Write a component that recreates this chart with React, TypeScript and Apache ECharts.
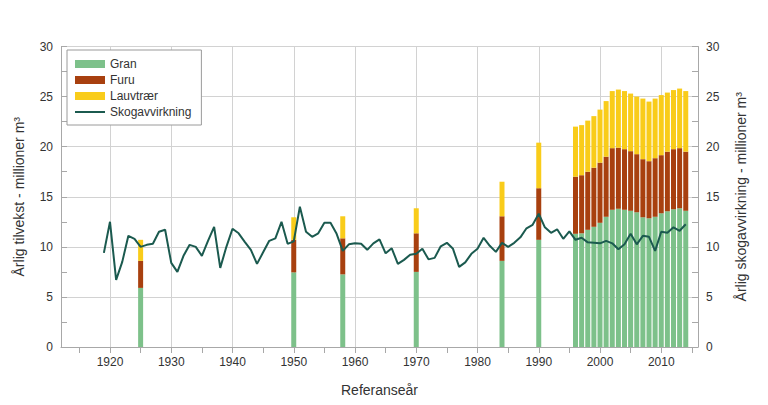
import React, { useEffect, useRef } from "react";
import * as echarts from "echarts";

const axisFirstYear = 1912;
const axisLastYear = 2016;

const barYears = [1925, 1950, 1958, 1970, 1984, 1990, 1996, 1997, 1998, 1999, 2000, 2001, 2002, 2003, 2004, 2005, 2006, 2007, 2008, 2009, 2010, 2011, 2012, 2013, 2014];
const granValues = [5.9, 7.45, 7.25, 7.5, 8.6, 10.7, 11.3, 11.35, 11.7, 12.0, 12.4, 13.0, 13.7, 13.8, 13.7, 13.6, 13.45, 12.95, 12.85, 13.0, 13.35, 13.55, 13.75, 13.85, 13.6];
const furuValues = [2.7, 3.25, 3.6, 3.85, 4.45, 5.15, 5.7, 5.8, 5.8, 5.9, 6.0, 6.0, 6.15, 6.1, 6.05, 5.95, 5.8, 5.8, 5.7, 5.85, 5.8, 5.95, 6.0, 6.0, 5.9];
const lauvValues = [2.1, 2.25, 2.2, 2.5, 3.45, 4.55, 5.0, 5.0, 5.1, 5.15, 5.3, 5.55, 5.7, 5.8, 5.8, 5.75, 5.75, 6.05, 5.95, 5.95, 6.0, 5.9, 5.9, 5.95, 6.05];

const lineStartYear = 1919;
const avvirkningValues = [
  9.4, 12.5, 6.7, 8.5, 11.1, 10.8, 10.0, 10.2, 10.3, 11.5,
  11.7, 8.4, 7.5, 9.1, 10.2, 10.0, 9.1, 10.6, 12.0, 7.9,
  10.0, 11.8, 11.35, 10.5, 9.7, 8.3, 9.45, 10.6, 10.85, 12.5,
  10.3, 10.55, 14.0, 11.5, 11.0, 11.35, 12.4, 12.4, 11.3, 9.6,
  10.25, 10.35, 10.3, 9.7, 10.35, 10.75, 9.35, 9.85, 8.3, 8.7,
  9.2, 9.3, 9.8, 8.75, 8.9, 10.05, 10.4, 9.8, 8.0, 8.45,
  9.3, 9.8, 10.9, 10.1, 9.5, 10.4, 10.0, 10.4, 10.95, 11.85,
  12.2, 13.3, 11.95, 11.4, 11.75, 10.8, 11.55, 10.7, 10.9, 10.45,
  10.4, 10.35, 10.6, 10.35, 9.75, 10.25, 11.3, 10.25, 11.1, 11.0,
  9.6, 11.5, 11.4, 11.95, 11.6, 12.25,
];

const FONT = "'Liberation Sans', Arial, sans-serif";
const GREEN = "#7DC18A";
const BROWN = "#A8400F";
const YELLOW = "#F9CC1A";
const LINE = "#1B5A4F";
const AXIS = "#A8A8A8";
const GRID = "#D2D2D2";
const TEXT = "#333333";

const LINE_ICON = "path://M0,0h0.01v0.01h-0.01z M0,3h30v2h-30z M0,7.99h0.01v0.01h-0.01z";

export default function App() {
  const ref = useRef<HTMLDivElement>(null);

  useEffect(() => {
    if (!ref.current) return;
    const chart = echarts.init(ref.current, undefined, { renderer: "svg" });

    const categories: string[] = [];
    for (let y = axisFirstYear; y <= axisLastYear; y++) categories.push(String(y));

    const barSeriesData = (vals: number[]) =>
      categories.map((c) => {
        const i = barYears.indexOf(Number(c));
        return i >= 0 ? vals[i] : null;
      });
    const lineData = categories.map((c) => {
      const i = Number(c) - lineStartYear;
      return i >= 0 && i < avvirkningValues.length ? avvirkningValues[i] : null;
    });

    const isTick = (_i: number, v: string) => Number(v) % 5 === 0;
    const isLabel = (_i: number, v: string) => Number(v) % 10 === 0;

    chart.setOption({
      animation: false,
      backgroundColor: "#ffffff",
      textStyle: { fontFamily: FONT },
      grid: { left: 61, right: 70, top: 46.5, bottom: 58, containLabel: false },
      legend: {
        orient: "vertical",
        left: 67,
        top: 50,
        padding: [8, 10, 7, 8],
        backgroundColor: "#ffffff",
        borderColor: "#9A9A9A",
        borderWidth: 1,
        itemWidth: 30,
        itemHeight: 8,
        itemGap: 4,
        textStyle: { fontFamily: FONT, fontSize: 12, color: TEXT },
        data: [
          { name: "Gran", icon: "rect" },
          { name: "Furu", icon: "rect" },
          { name: "Lauvtrær", icon: "rect" },
          { name: "Skogavvirkning", icon: LINE_ICON },
        ],
      },
      xAxis: {
        type: "category",
        data: categories,
        boundaryGap: false,
        name: "Referanseår",
        nameLocation: "middle",
        nameGap: 36,
        nameTextStyle: { fontFamily: FONT, fontSize: 14, color: TEXT },
        axisLine: { show: true, lineStyle: { color: AXIS } },
        axisTick: { show: true, length: 6, interval: isTick, lineStyle: { color: AXIS } },
        axisLabel: { fontFamily: FONT, fontSize: 12, color: TEXT, margin: 9, interval: isLabel },
        splitLine: { show: true, interval: isLabel, lineStyle: { color: GRID, width: 1 } },
      },
      yAxis: [
        {
          type: "value",
          min: 0,
          max: 30,
          interval: 5,
          position: "left",
          name: "Årlig tilvekst - millioner m³",
          nameLocation: "middle",
          nameGap: 35,
          nameTextStyle: { fontFamily: FONT, fontSize: 14, color: TEXT },
          axisLine: { show: true, lineStyle: { color: AXIS } },
          axisTick: { show: true, inside: true, length: 6, lineStyle: { color: AXIS } },
          minorTick: { show: true, splitNumber: 2, length: 6, lineStyle: { color: AXIS } },
          axisLabel: { fontFamily: FONT, fontSize: 12, color: TEXT, margin: 8 },
          splitLine: { show: true, lineStyle: { color: GRID, width: 1 } },
        },
        {
          type: "value",
          min: 0,
          max: 30,
          interval: 5,
          position: "right",
          name: "Årlig skogavvirkning - millioner m³",
          nameLocation: "middle",
          nameGap: 36,
          nameTextStyle: { fontFamily: FONT, fontSize: 14, color: TEXT },
          axisLine: { show: true, lineStyle: { color: AXIS } },
          axisTick: { show: true, inside: true, length: 6, lineStyle: { color: AXIS } },
          minorTick: { show: true, splitNumber: 2, length: 6, lineStyle: { color: AXIS } },
          axisLabel: { fontFamily: FONT, fontSize: 12, color: TEXT, margin: 8 },
          splitLine: { show: false },
        },
      ],
      series: [
        {
          name: "Gran",
          type: "bar",
          stack: "tilvekst",
          barWidth: 5,
          itemStyle: { color: GREEN },
          data: barSeriesData(granValues),
        },
        {
          name: "Furu",
          type: "bar",
          stack: "tilvekst",
          barWidth: 5,
          itemStyle: { color: BROWN },
          data: barSeriesData(furuValues),
        },
        {
          name: "Lauvtrær",
          type: "bar",
          stack: "tilvekst",
          barWidth: 5,
          itemStyle: { color: YELLOW },
          data: barSeriesData(lauvValues),
        },
        {
          name: "Skogavvirkning",
          type: "line",
          yAxisIndex: 1,
          symbol: "none",
          connectNulls: false,
          lineStyle: { color: LINE, width: 2 },
          itemStyle: { color: LINE },
          data: lineData,
          z: 5,
        },
      ],
    });

    return () => chart.dispose();
  }, []);

  return (
    <div
      ref={ref}
      style={{ position: "fixed", left: 0, top: 0, width: 768, height: 405 }}
    />
  );
}
